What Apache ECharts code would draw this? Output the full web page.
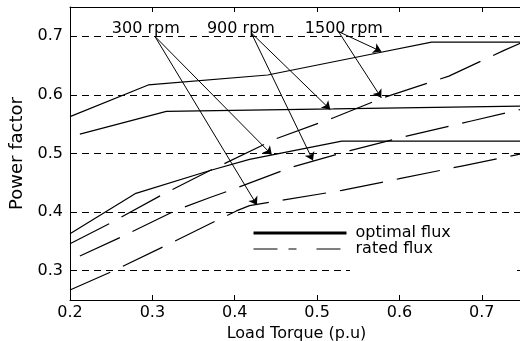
<!DOCTYPE html>
<html>
<head>
<meta charset="utf-8">
<script src="https://cdn.jsdelivr.net/npm/echarts@6/dist/echarts.min.js"></script>
<style>
  html, body { margin: 0; padding: 0; background: #fff; }
  #powerChart { width: 520px; height: 341px; }
</style>
</head>
<body>
<div id="powerChart"></div>
<script>
// optimal flux curves (solid), [load torque, power factor]
const opt1500 = [[0.2, 0.563], [0.295, 0.617], [0.44, 0.634], [0.564, 0.669], [0.639, 0.69], [0.75, 0.69]];
const opt900 = [[0.212, 0.533], [0.317, 0.572], [0.52, 0.576], [0.75, 0.581]];
const opt300 = [[0.2, 0.363], [0.28, 0.432], [0.37, 0.471], [0.418, 0.49], [0.53, 0.521], [0.75, 0.521]];

// rated flux curves (dashed)
const rated1500 = [[0.2, 0.346], [0.25, 0.382], [0.315, 0.432], [0.37, 0.471], [0.45, 0.525], [0.52, 0.561],
  [0.58, 0.595], [0.66, 0.632], [0.727, 0.676], [0.75, 0.69]];
const rated900 = [[0.212, 0.325], [0.263, 0.358], [0.33, 0.404], [0.37, 0.425], [0.40, 0.44], [0.47, 0.477],
  [0.54, 0.505], [0.61, 0.53], [0.686, 0.555], [0.75, 0.576]];
const rated300 = [[0.2, 0.267], [0.25, 0.298], [0.318, 0.344], [0.37, 0.38], [0.402, 0.402], [0.418, 0.411],
  [0.46, 0.421], [0.53, 0.437], [0.6, 0.457], [0.677, 0.479], [0.75, 0.5]];

// speed annotations: label, label position, arrow start, arrow tips
const rpmNames = ['300 rpm', '900 rpm', '1500 rpm'];
const rpmLabelAt = [[0.292, 0.712], [0.4075, 0.712], [0.5325, 0.712]];
const rpmArrowFrom = [[0.303, 0.70], [0.42, 0.706], [0.526, 0.708]];
const rpmArrowTo = [
  [[0.445, 0.498], [0.427, 0.412]],
  [[0.516, 0.575], [0.495, 0.488]],
  [[0.578, 0.674], [0.578, 0.595]]
];

(function () {
  const font = 'DejaVu Sans';
  const ink = '#000';

  const arrows = [];
  rpmArrowTo.forEach(function (tips, i) {
    tips.forEach(function (t) {
      arrows.push([{ coord: rpmArrowFrom[i] }, { coord: t }]);
    });
  });

  function curve(name, data, dashed) {
    return {
      name: name,
      type: 'line',
      data: data,
      symbol: 'none',
      silent: true,
      lineStyle: { color: ink, width: 1.2, type: dashed ? [44, 14] : 'solid' },
      itemStyle: { color: ink }
    };
  }

  const xAxisBase = {
    type: 'value',
    min: 0.2,
    max: 0.75,
    interval: 0.1,
    axisLine: { show: true, lineStyle: { color: ink, width: 1 } },
    axisTick: { show: true, inside: true, length: 5, lineStyle: { color: ink } },
    splitLine: { show: false }
  };

  const option = {
    animation: false,
    backgroundColor: '#fff',
    grid: { left: 70, right: -3, top: 7, bottom: 41, containLabel: false, outerBoundsMode: 'none' },
    legend: {
      orient: 'vertical',
      left: 252,
      top: 225,
      itemWidth: 93,
      itemHeight: 14,
      itemGap: 0,
      padding: 0,
      selectedMode: false,
      itemStyle: { color: 'transparent', borderWidth: 0, opacity: 0 },
      data: [
        { name: 'optimal flux', lineStyle: { width: 3 } },
        { name: 'rated flux', lineStyle: { width: 1.2, type: [24, 11, 8, 20] } }
      ],
      textStyle: { fontFamily: font, fontSize: 16, color: ink, lineHeight: 14, padding: [0, 0, 0, 4] }
    },
    xAxis: [
      Object.assign({}, xAxisBase, {
        position: 'bottom',
        name: 'Load Torque (p.u)',
        nameLocation: 'middle',
        nameGap: 20,
        nameTextStyle: { fontFamily: font, fontSize: 16, color: ink },
        axisLabel: {
          fontFamily: font, fontSize: 16, color: ink, margin: 5, showMaxLabel: false,
          formatter: function (v) { return v.toFixed(1); }
        }
      }),
      Object.assign({}, xAxisBase, {
        position: 'top',
        axisLabel: { show: false }
      })
    ],
    yAxis: {
      type: 'value',
      min: 0.25,
      max: 0.75,
      name: 'Power factor',
      nameLocation: 'middle',
      nameGap: 44,
      nameTextStyle: { fontFamily: font, fontSize: 18, color: ink },
      axisLine: { show: true, lineStyle: { color: ink, width: 1 } },
      axisTick: { show: true, inside: true, length: 5, lineStyle: { color: ink } },
      axisLabel: {
        fontFamily: font, fontSize: 16, color: ink, margin: 7,
        showMinLabel: false, showMaxLabel: false,
        formatter: function (v) { return v.toFixed(1); }
      },
      splitLine: { show: true, lineStyle: { color: ink, width: 1, type: [7, 5] } }
    },
    graphic: [
      // blank legend box that hides part of the 0.3 gridline
      { type: 'rect', z: 1, shape: { x: 350, y: 266, width: 167, height: 9 }, style: { fill: '#fff' } }
    ],
    series: [
      curve('optimal flux', opt1500, false),
      curve('optimal flux', opt900, false),
      curve('optimal flux', opt300, false),
      curve('rated flux', rated1500, true),
      curve('rated flux', rated900, true),
      curve('rated flux', rated300, true),
      {
        name: 'notes',
        type: 'line',
        data: [],
        silent: true,
        markLine: {
          silent: true,
          symbol: ['none', 'arrow'],
          symbolSize: 8,
          label: { show: false },
          lineStyle: { color: ink, width: 1, type: 'solid' },
          data: arrows
        },
        markPoint: {
          silent: true,
          symbol: 'circle',
          symbolSize: 0,
          itemStyle: { color: 'transparent' },
          label: { show: true, position: 'inside', fontFamily: font, fontSize: 16, color: ink, formatter: '{b}' },
          data: rpmNames.map(function (n, i) { return { name: n, coord: rpmLabelAt[i] }; })
        }
      }
    ]
  };

  const chart = echarts.init(document.getElementById('powerChart'));
  chart.setOption(option);
}());
</script>
</body>
</html>
